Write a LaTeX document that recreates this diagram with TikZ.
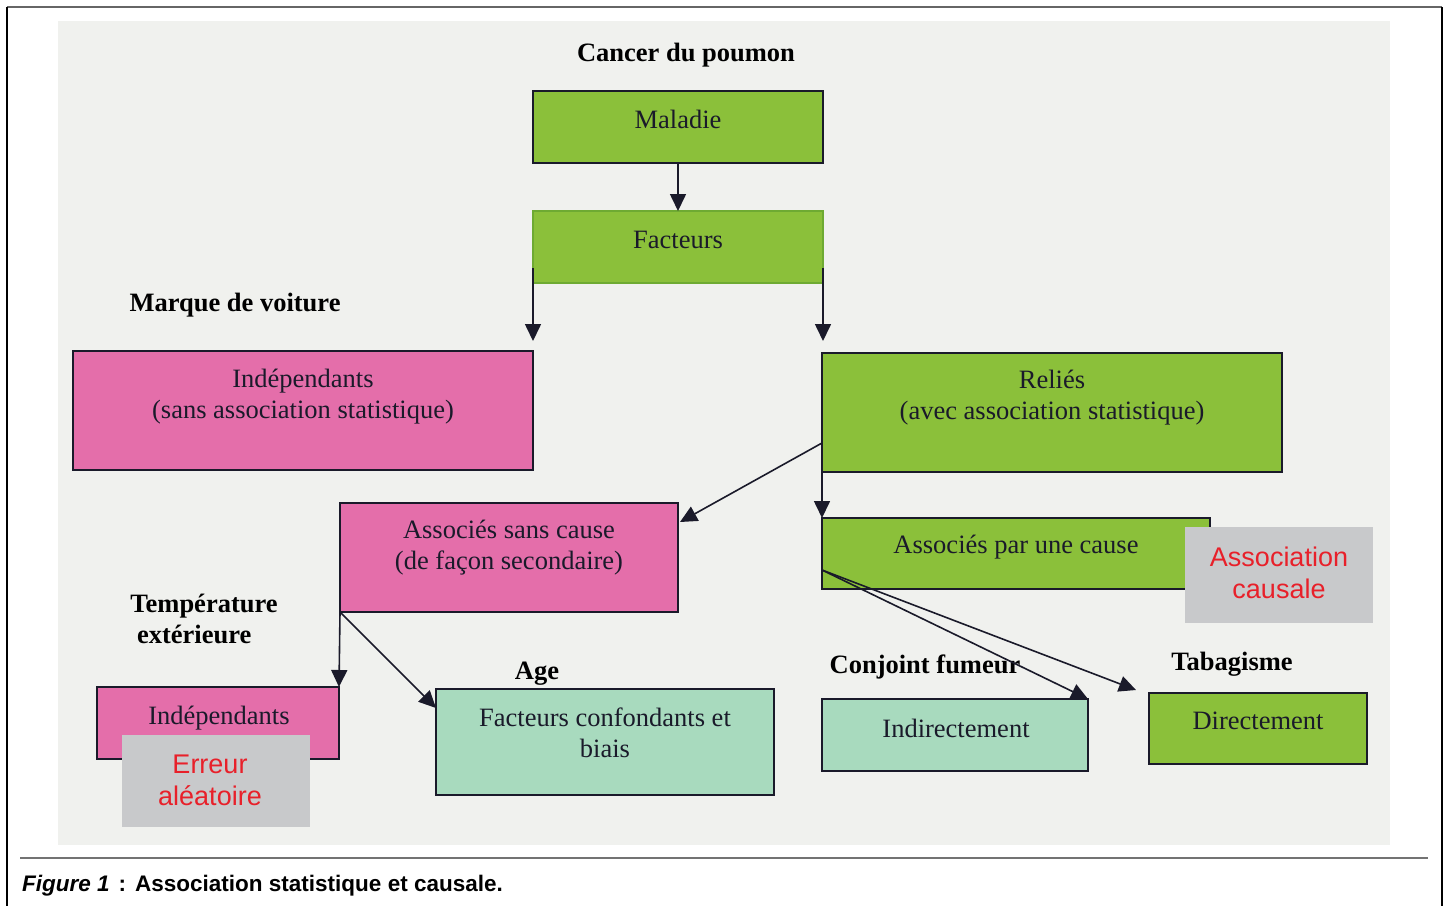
\documentclass[tikz,border=0pt]{standalone}
\usepackage{fontspec}
\setmainfont{Liberation Serif}
\newfontfamily\capsans{Liberation Sans}
\usetikzlibrary{arrows.meta}
\definecolor{grn}{RGB}{139,192,58}
\definecolor{grnb}{RGB}{110,170,50}
\definecolor{pnk}{RGB}{228,110,170}
\definecolor{mint}{RGB}{168,218,190}
\definecolor{gbox}{RGB}{200,201,203}
\definecolor{redt}{RGB}{232,32,42}
\definecolor{panel}{RGB}{240,241,238}
\definecolor{ink}{RGB}{26,26,42}
\tikzset{
  box/.style={draw=ink, line width=1.8pt, inner sep=0pt, outer sep=0pt, anchor=north west},
  gray/.style={fill=gbox, inner sep=0pt, outer sep=0pt, anchor=north west},
  txt/.style={font=\fontsize{26.5}{31}\selectfont, align=center, inner sep=0pt, text=ink},
  lbl/.style={font=\fontsize{26.5}{31}\selectfont\bfseries, align=center, inner sep=0pt, text=black},
  rtxt/.style={font=\capsans\fontsize{27}{32}\selectfont, align=center, inner sep=0pt, text=redt},
  arr/.style={draw=ink, line width=1.6pt, -{Triangle[length=17pt,width=16pt]}}
}
\begin{document}
\begin{tikzpicture}[x=1pt,y=-1pt]
\useasboundingbox (0,0) rectangle (1450,906);
\fill[white] (0,0) rectangle (1450,906);
% frame
\draw[gray!80!black, line width=2.5pt] (7,7) -- (1442,7);
\draw[black, line width=2.5pt] (7,7) -- (7,906);
\draw[black, line width=2.5pt] (1442,7) -- (1442,906);
\fill[panel] (58,21) rectangle (1390,845);
\draw[gray!90!black, line width=2pt] (20,858) -- (1428,858);
\node[anchor=base west, inner sep=0pt, font=\capsans\fontsize{22.5}{26}\selectfont\bfseries] (cap) at (22,891)
  {\textit{Figure 1}\hspace{9pt}:\hspace{9pt}Association statistique et causale.};

% boxes
\node[box, fill=grn, minimum width=290pt, minimum height=72pt] (mal) at (533,91) {};
\node[box, fill=grn, draw=grnb, minimum width=290pt, minimum height=72pt] (fac) at (533,211) {};
\node[box, fill=pnk, minimum width=460pt, minimum height=119pt] (indL) at (73,351) {};
\node[box, fill=grn, minimum width=460pt, minimum height=119pt] (rel) at (822,353) {};
\node[box, fill=pnk, minimum width=338pt, minimum height=109pt] (asc) at (340,503) {};
\node[box, fill=grn, minimum width=388pt, minimum height=71pt] (apc) at (822,518) {};
\node[gray, minimum width=188pt, minimum height=96pt] (ac) at (1185,527) {};
\node[box, fill=mint, minimum width=266pt, minimum height=72pt] (ind) at (822,699) {};
\node[box, fill=grn, minimum width=218pt, minimum height=71pt] (dir) at (1149,693) {};
\node[box, fill=pnk, minimum width=242pt, minimum height=72pt] (indS) at (97,687) {};
\node[gray, minimum width=188pt, minimum height=92pt] (err) at (122,735) {};
\node[box, fill=mint, minimum width=338pt, minimum height=106pt] (fcb) at (436,689) {};

% box texts
\node[txt] (malT) at (678,119) {Maladie};
\node[txt] (facT) at (678,240) {Facteurs};
\node[txt] (indLT) at (303,397) {Indépendants\\(sans association statistique)};
\node[txt] (relT) at (1052,398) {Reliés\\(avec association statistique)};
\node[txt] (ascT) at (509,548) {Associés sans cause\\(de façon secondaire)};
\node[txt] (apcT) at (1016,547) {Associés par une cause};
\node[rtxt] (acT) at (1279,573) {Association\\causale};
\node[txt] (indT) at (956,728) {Indirectement};
\node[txt] (dirT) at (1258,721) {Directement};
\node[txt] (indST) at (219,718) {Indépendants};
\node[rtxt] (errT) at (210,780) {Erreur\\aléatoire};
\node[txt] (fcbT) at (605,733) {Facteurs confondants et\\biais};

% labels
\node[lbl] (l1) at (686,55) {Cancer du poumon};
\node[lbl] (l2) at (235,305) {Marque de voiture};
\node[lbl, align=left] (l3) at (204,619) {Température\\\ extérieure};
\node[lbl] (l4) at (537,674) {Age};
\node[lbl] (l5) at (925,667) {Conjoint fumeur};
\node[lbl] (l6) at (1232,664) {Tabagisme};

% connectors
\draw[arr] (mal.south) -- (fac.north);
\draw[arr] ([yshift=15pt]fac.south west) -- ([yshift=10pt]indL.north east);
\draw[arr] ([yshift=15pt]fac.south east) -- ([xshift=1pt,yshift=12pt]rel.north west);
\draw[arr] ([yshift=29pt]rel.south west) -- ([xshift=2pt,yshift=-19pt]asc.north east);
\draw[arr] (rel.south west) -- (apc.north west);
\draw[arr] ([yshift=19pt]apc.south west) -- (ind.north east);
\draw[arr] ([yshift=19pt]apc.south west) -- ([xshift=-13pt,yshift=3pt]dir.north west);
\draw[arr] (asc.south west) -- (indS.north east);
\draw[arr] (asc.south west) -- ([yshift=-19pt]fcb.north west);
\end{tikzpicture}
\end{document}
